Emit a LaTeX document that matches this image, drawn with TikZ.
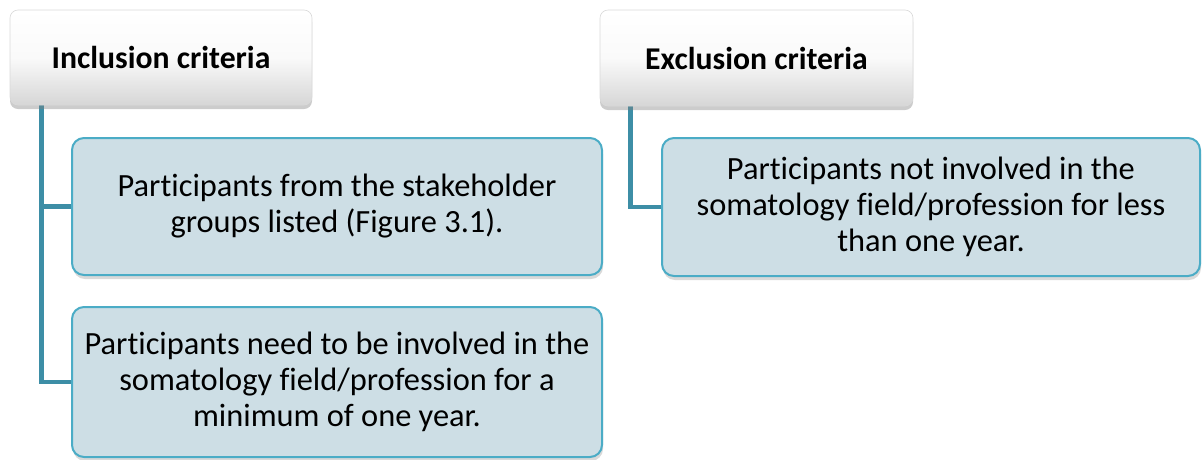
\documentclass[tikz,border=0pt]{standalone}
\usepackage{fontspec}
\setmainfont{Carlito}[Ligatures=NoCommon]
\usetikzlibrary{shadows,calc,backgrounds}
\definecolor{boxfill}{RGB}{205,222,229}
\definecolor{boxline}{RGB}{75,172,198}
\definecolor{linkcol}{RGB}{61,142,166}
\tikzset{
  header/.style={rounded corners=8pt, draw=gray!30, line width=0.6pt,
    top color=white, bottom color=gray!32, middle color=gray!4,
    drop shadow={shadow xshift=0pt, shadow yshift=-4pt, opacity=0.4, fill=gray},
    font=\fontsize{31.7}{36}\selectfont\bfseries, align=center, inner sep=0pt},
  itembox/.style={rounded corners=12pt, draw=boxline, line width=2pt, fill=boxfill,
    drop shadow={shadow xshift=1pt, shadow yshift=-4pt, opacity=0.3, fill=gray},
    font=\fontsize{32.4}{36}\selectfont, align=center, inner sep=0pt},
  link/.style={draw=linkcol, line width=4.5pt}
}
\begin{document}
\begin{tikzpicture}[x=1pt, y=-1pt]
\useasboundingbox (0,0) rectangle (1203,459);
% headers
\node[header, minimum width=302pt, minimum height=95pt] (inc) at (161,57.5) {Inclusion criteria};
\node[header, minimum width=313pt, minimum height=96pt] (exc) at (756.5,58) {Exclusion criteria};
% where the connectors leave the headers
\coordinate (inctop) at ($(inc.south west)+(32,0)$);
\coordinate (exctop) at ($(exc.south west)+(31,0)$);
% item boxes
\node[itembox, minimum width=530pt, minimum height=137pt] (i1) at (337,206.5)
  {Participants from the stakeholder\\groups listed (Figure 3.1).};
\node[itembox, minimum width=530pt, minimum height=150pt] (i2) at (337,382)
  {Participants need to be involved in the\\somatology field/profession for a\\minimum of one year.};
\node[itembox, minimum width=538pt, minimum height=138pt] (e1) at (931,207)
  {Participants not involved in the\\somatology field/profession for less\\than one year.};
% connectors, behind the boxes
\begin{scope}[on background layer]
\draw[link] (inctop) |- (i2.west);
\draw[link] (inctop |- i1.west) -- (i1.west);
\draw[link] (exctop) |- (e1.west);
\end{scope}
\end{tikzpicture}
\end{document}
